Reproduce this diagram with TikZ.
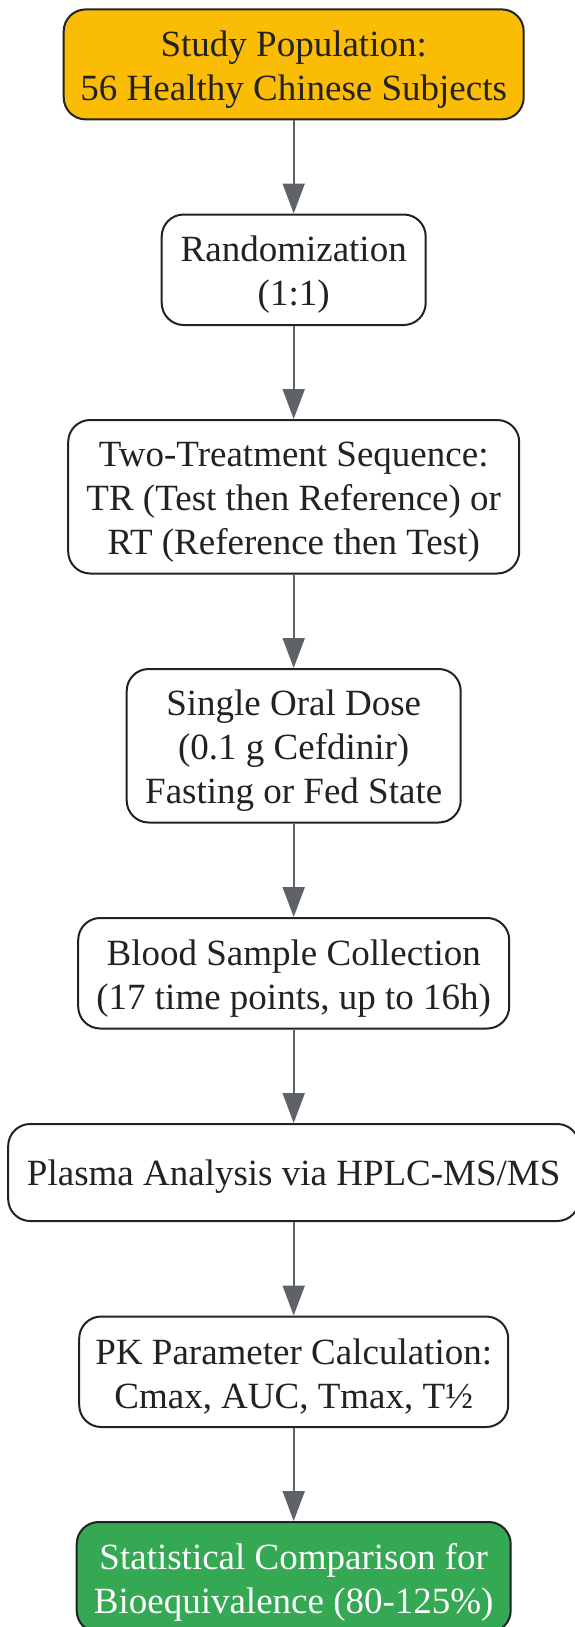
\documentclass[tikz,border=0pt]{standalone}
\usepackage{fontspec}
\setmainfont{Liberation Serif}
\usetikzlibrary{arrows.meta}
\definecolor{txt}{HTML}{222222}
\definecolor{bord}{HTML}{222222}
\definecolor{arrowgray}{HTML}{5F6368}
\definecolor{ylw}{HTML}{FBBC05}
\definecolor{grn}{HTML}{34A853}
\begin{document}
\begin{tikzpicture}[x=1pt,y=-1pt,
  box/.style={draw=bord, line width=2pt, rounded corners=22pt, fill=white, inner sep=0pt},
  lbl/.style={align=center, text=txt, font=\fontsize{37}{44}\selectfont, inner sep=0pt},
  arr/.style={draw=arrowgray, line width=2pt, -{Triangle[length=30pt,width=22pt]}}]
\useasboundingbox (0,0) rectangle (574,1627);
\node[box, fill=ylw, minimum width=460pt, minimum height=110pt] (n1) at (293.7,64.4) {};
\node[lbl] (t1) at ([yshift=-5pt]n1.center) {Study Population:\\56 Healthy Chinese Subjects};
\node[box, minimum width=264pt, minimum height=110.5pt] (n2) at (293.7,269.75) {};
\node[lbl] (t2) at ([yshift=-5pt]n2.center) {Randomization\\(1:1)};
\node[box, minimum width=451pt, minimum height=153.5pt] (n3) at (293.7,496.75) {};
\node[lbl] (t3) at ([yshift=-5pt]n3.center) {Two-Treatment Sequence:\\TR (Test then Reference) or\\RT (Reference then Test)};
\node[box, minimum width=334pt, minimum height=153.5pt] (n4) at (293.7,745.75) {};
\node[lbl] (t4) at ([yshift=-5pt]n4.center) {Single Oral Dose\\(0.1 g Cefdinir)\\Fasting or Fed State};
\node[box, minimum width=431pt, minimum height=110.5pt] (n5) at (293.7,973.25) {};
\node[lbl] (t5) at ([yshift=-5pt]n5.center) {Blood Sample Collection\\(17 time points, up to 16h)};
\node[box, minimum width=571pt, minimum height=97pt] (n6) at (293.7,1172.5) {};
\node[lbl] (t6) at ([yshift=-4pt]n6.center) {Plasma Analysis via HPLC-MS/MS};
\node[box, minimum width=429pt, minimum height=110.5pt] (n7) at (293.7,1371.75) {};
\node[lbl] (t7) at ([yshift=-5pt]n7.center) {PK Parameter Calculation:\\Cmax, AUC, Tmax, T½};
\node[box, fill=grn, minimum width=434pt, minimum height=110.5pt] (n8) at (293.7,1577.25) {};
\node[lbl, text=white] (t8) at ([yshift=-5pt]n8.center) {Statistical Comparison for\\Bioequivalence (80-125\%)};
\draw[arr] (n1) -- (n2);
\draw[arr] (n2) -- (n3);
\draw[arr] (n3) -- (n4);
\draw[arr] (n4) -- (n5);
\draw[arr] (n5) -- (n6);
\draw[arr] (n6) -- (n7);
\draw[arr] (n7) -- (n8);
\end{tikzpicture}
\end{document}
